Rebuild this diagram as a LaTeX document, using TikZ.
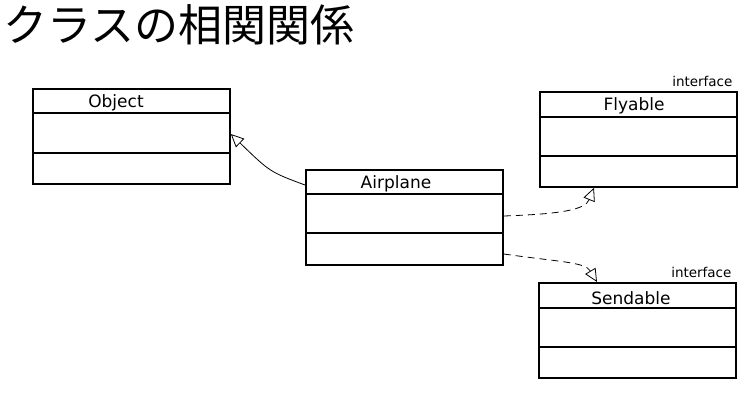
\documentclass[tikz,border=0pt]{standalone}
\usepackage{fontspec}
\setmainfont{DejaVu Sans}
\newfontfamily\cjk{Noto Sans CJK JP}
\usetikzlibrary{arrows.meta}
\begin{document}
\begin{tikzpicture}[x=1pt,y=-1pt,
  cls/.style={draw=black,line width=1.8pt,minimum width=197pt,minimum height=95pt,inner sep=0pt},
  divider/.style={line width=1.6pt},
  lbl/.style={font=\fontsize{17}{19}\selectfont},
  tag/.style={font=\fontsize{13.5}{15}\selectfont,anchor=base east},
  inh/.style={line width=0.8pt,-{Triangle[open,length=13pt,width=12pt]}},
  real/.style={inh,dashed,dash pattern=on 7pt off 5pt}]
\useasboundingbox (0,0) rectangle (750,400);
\node[anchor=north west,inner sep=0pt,font=\cjk\fontsize{44}{46}\selectfont] (title) at (3,4) {クラスの相関関係};

\node[cls,anchor=north west] (obj) at (32,88) {};
\draw[divider] (32,113) -- (230,113) (32,153) -- (230,153);
\node[lbl] (objn) at (116,103) {Object};

\node[cls,anchor=north west] (air) at (305,169) {};
\draw[divider] (305,194) -- (502,194) (305,233) -- (502,233);
\node[lbl] (airn) at (396,184) {Airplane};

\node[cls,anchor=north west] (fly) at (539,91) {};
\draw[divider] (539,117) -- (736,117) (539,156) -- (736,156);
\node[lbl] (flyn) at (634,106) {Flyable};
\node[tag] (flyt) at (736,86) {interface};

\node[cls,anchor=north west] (snd) at (538,282) {};
\draw[divider] (538,308) -- (735,308) (538,347) -- (735,347);
\node[lbl] (sndn) at (631,298) {Sendable};
\node[tag] (sndt) at (735,277) {interface};

\draw[inh] (air.west |- 0,185) .. controls (270,172) .. (obj.east |- 0,134);
\draw[real] (air.east |- 0,216) .. controls (560,214) and (585,210) .. (fly.south -| 594,0);
\draw[real] (air.east |- 0,254) .. controls (560,262) and (585,262) .. (snd.north -| 597,0);
\end{tikzpicture}
\end{document}
